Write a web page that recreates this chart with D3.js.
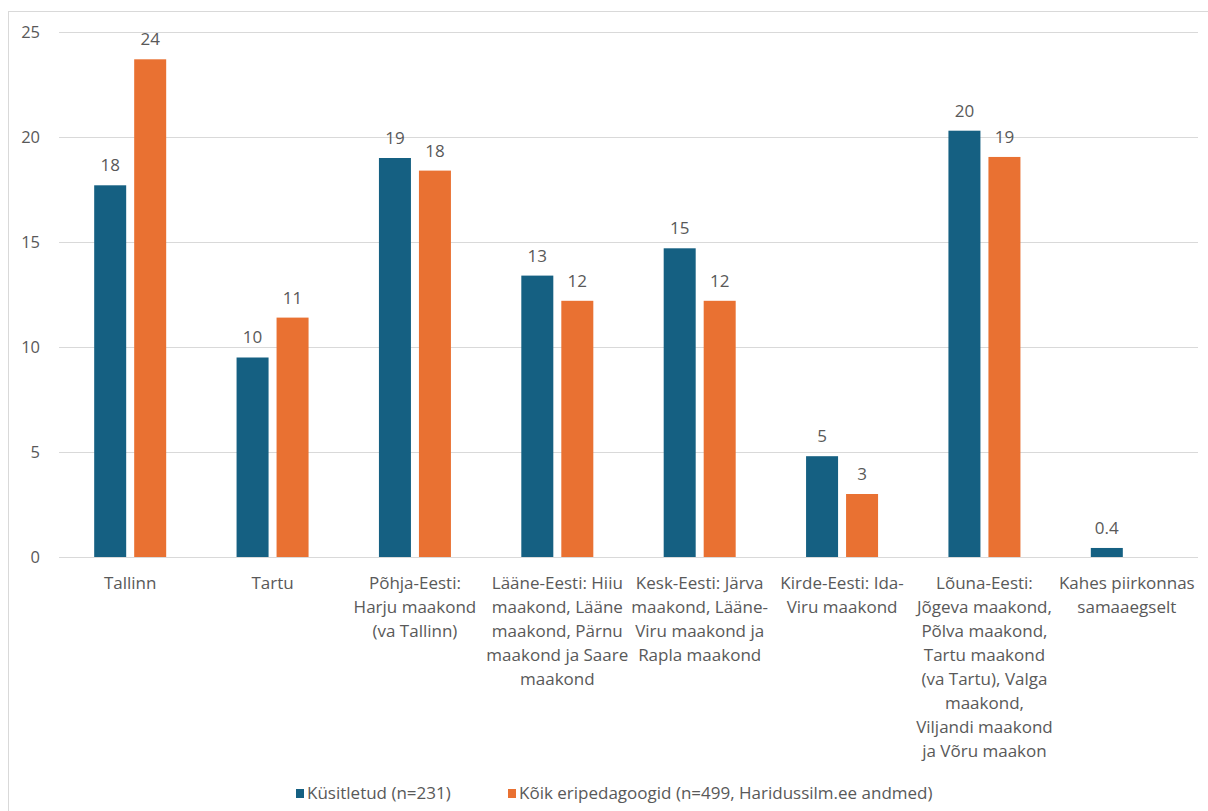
<!DOCTYPE html>
<html>
<head>
<meta charset="utf-8">
<script src="https://cdn.jsdelivr.net/npm/d3@7"></script>
<style>
  body { margin: 0; background: #fff; }
  text { font-family: "Open Sans", "Noto Sans", sans-serif; fill: #595959; }
</style>
</head>
<body>
<div id="chart"></div>
<script>
// regions (line breaks as in the original chart)
const categories = [
  "Tallinn",
  "Tartu",
  "Põhja-Eesti:\nHarju maakond\n(va Tallinn)",
  "Lääne-Eesti: Hiiu\nmaakond, Lääne\nmaakond, Pärnu\nmaakond ja Saare\nmaakond",
  "Kesk-Eesti: Järva\nmaakond, Lääne-\nViru maakond ja\nRapla maakond",
  "Kirde-Eesti: Ida-\nViru maakond",
  "Lõuna-Eesti:\nJõgeva maakond,\nPõlva maakond,\nTartu maakond\n(va Tartu), Valga\nmaakond,\nViljandi maakond\nja Võru maakon",
  "Kahes piirkonnas\nsamaaegselt"
];

const surveyed = [17.7, 9.5, 19.0, 13.4, 14.7, 4.8, 20.3, 0.43];
const allTeachers = [23.7, 11.4, 18.4, 12.2, 12.2, 3.0, 19.05, null];

const surveyedLabels = ["18", "10", "19", "13", "15", "5", "20", "0.4"];
const allLabels = ["24", "11", "18", "12", "12", "3", "19", ""];

const seriesNames = ["Küsitletud (n=231)", "Kõik eripedagoogid (n=499, Haridussilm.ee andmed)"];
const colors = ["#156082", "#E97132"];
const yTicks = [0, 5, 10, 15, 20, 25];

////////////////////////////////////////////////////////////////////////
// layout
const width = 1208, height = 811;
const plotLeft = 59, plotRight = 1198, plotTop = 32, plotBottom = 557;

const svg = d3.select("#chart").append("svg")
  .attr("width", width)
  .attr("height", height);

// chart frame
svg.append("rect")
  .attr("x", 8.5).attr("y", 11.5)
  .attr("width", width).attr("height", height)
  .attr("fill", "none")
  .attr("stroke", "#d9d9d9");

const x = d3.scaleBand()
  .domain(d3.range(categories.length))
  .range([plotLeft, plotRight]);

const y = d3.scaleLinear()
  .domain([0, 25])
  .range([plotBottom, plotTop]);

// gridlines
svg.append("g")
  .selectAll("line")
  .data(yTicks)
  .join("line")
  .attr("x1", plotLeft).attr("x2", plotRight)
  .attr("y1", d => Math.round(y(d)) + 0.5)
  .attr("y2", d => Math.round(y(d)) + 0.5)
  .attr("stroke", "#d9d9d9");

// y tick labels
svg.append("g")
  .selectAll("text")
  .data(yTicks)
  .join("text")
  .attr("x", 40)
  .attr("y", d => y(d))
  .attr("dy", "0.35em")
  .attr("text-anchor", "end")
  .style("font-size", "16.5px")
  .text(d => d);

// bars
const barW = 32, gap = 8;
const series = [surveyed, allTeachers];
const labels = [surveyedLabels, allLabels];

series.forEach((vals, s) => {
  const offset = s === 0 ? -(barW + gap / 2) : gap / 2;
  const rows = vals.map((v, i) => ({ i, v, lab: labels[s][i] })).filter(d => d.v != null);

  svg.append("g")
    .selectAll("rect")
    .data(rows)
    .join("rect")
    .attr("x", d => x(d.i) + x.bandwidth() / 2 + offset)
    .attr("y", d => y(d.v))
    .attr("width", barW)
    .attr("height", d => y(0) - y(d.v))
    .attr("fill", colors[s]);

  svg.append("g")
    .selectAll("text")
    .data(rows)
    .join("text")
    .attr("x", d => x(d.i) + x.bandwidth() / 2 + offset + barW / 2)
    .attr("y", d => y(d.v) - 20)
    .attr("dy", "0.35em")
    .attr("text-anchor", "middle")
    .style("font-size", "17px")
    .text(d => d.lab);
});

// category labels
svg.append("g")
  .selectAll("text")
  .data(categories)
  .join("text")
  .attr("x", (d, i) => x(i) + x.bandwidth() / 2)
  .attr("y", 583)
  .attr("text-anchor", "middle")
  .style("font-size", "17px")
  .each(function(d) {
    d3.select(this).selectAll("tspan")
      .data(d.split("\n"))
      .join("tspan")
      .attr("x", d3.select(this).attr("x"))
      .attr("dy", (t, j) => j === 0 ? "0.35em" : "24px")
      .text(t => t);
  });

// legend
const legendX = [296, 508];
const legend = svg.append("g")
  .selectAll("g")
  .data(seriesNames)
  .join("g")
  .attr("transform", (d, i) => `translate(${legendX[i]}, 793)`);

legend.append("rect")
  .attr("x", 0).attr("y", -4)
  .attr("width", 8).attr("height", 9)
  .attr("fill", (d, i) => colors[i]);

legend.append("text")
  .attr("x", 11)
  .attr("dy", "0.35em")
  .style("font-size", "17px")
  .text(d => d);
</script>
</body>
</html>
